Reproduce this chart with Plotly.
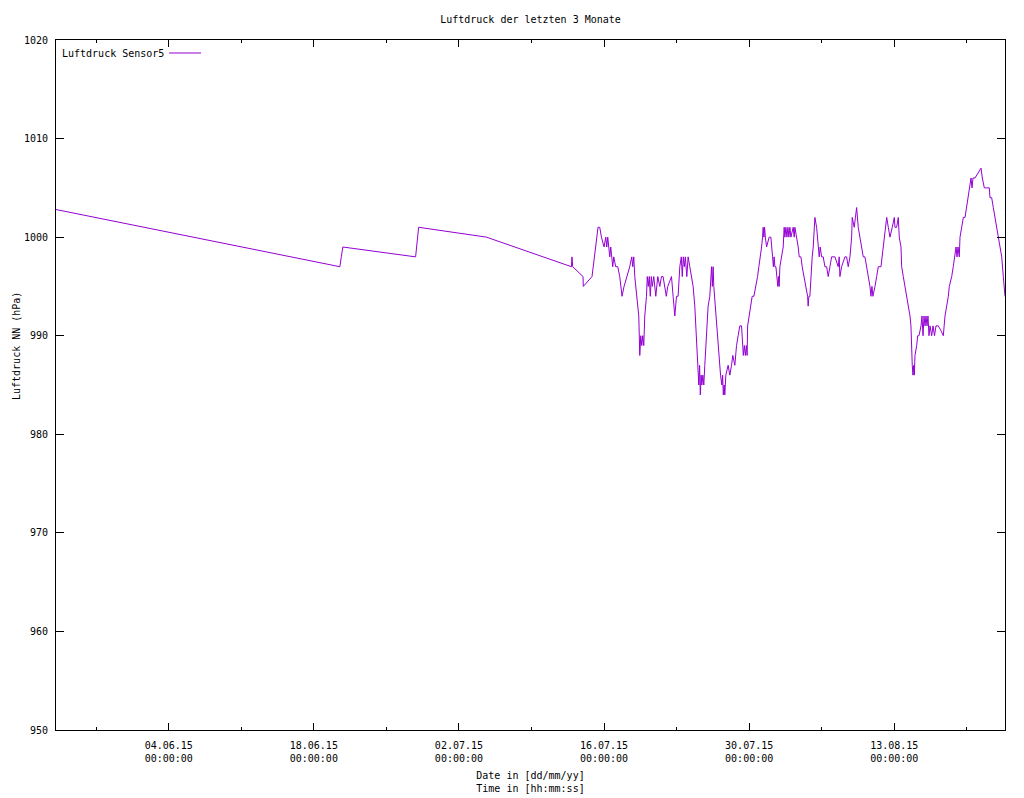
import plotly.graph_objects as go

title_text = "Luftdruck der letzten 3 Monate"
series_name = "Luftdruck Sensor5"
x_title = "Date in [dd/mm/yy]<br>Time in [hh:mm:ss]"
y_title = "Luftdruck NN (hPa)"

times = [
    "2015-05-24 03:00", "2015-06-20 12:15", "2015-06-20 15:40", "2015-06-20 19:10",
    "2015-06-27 19:40", "2015-06-28 02:40", "2015-07-04 15:35", "2015-07-12 20:30",
    "2015-07-12 21:40", "2015-07-12 23:30", "2015-07-13 23:20", "2015-07-14 00:00",
    "2015-07-14 20:10", "2015-07-15 10:05", "2015-07-15 14:00", "2015-07-15 18:00",
    "2015-07-16 00:00", "2015-07-16 04:00", "2015-07-16 06:20", "2015-07-16 08:35",
    "2015-07-16 10:55", "2015-07-16 13:15", "2015-07-16 15:30", "2015-07-16 17:50",
    "2015-07-16 20:10", "2015-07-16 22:30", "2015-07-17 03:00", "2015-07-17 07:45",
    "2015-07-17 12:20", "2015-07-17 17:40", "2015-07-17 22:20", "2015-07-18 11:30",
    "2015-07-18 16:10", "2015-07-18 18:30", "2015-07-18 20:50", "2015-07-18 23:10",
    "2015-07-19 05:25", "2015-07-19 08:25", "2015-07-19 10:45", "2015-07-19 13:00",
    "2015-07-19 15:20", "2015-07-19 17:40", "2015-07-19 20:00", "2015-07-19 22:20",
    "2015-07-20 02:15", "2015-07-20 04:05", "2015-07-20 06:25", "2015-07-20 08:45",
    "2015-07-20 11:05", "2015-07-20 13:25", "2015-07-20 15:40", "2015-07-20 19:10",
    "2015-07-20 23:50", "2015-07-21 04:25", "2015-07-21 09:05", "2015-07-21 13:00",
    "2015-07-21 16:40", "2015-07-21 20:40", "2015-07-22 00:10", "2015-07-22 03:35",
    "2015-07-22 12:10", "2015-07-22 15:55", "2015-07-22 19:50", "2015-07-22 23:45",
    "2015-07-23 03:30", "2015-07-23 07:25", "2015-07-23 10:55", "2015-07-23 13:10",
    "2015-07-23 15:30", "2015-07-23 17:50", "2015-07-23 20:10", "2015-07-23 23:40",
    "2015-07-24 02:40", "2015-07-24 06:35", "2015-07-24 10:30", "2015-07-24 14:15",
    "2015-07-24 18:10", "2015-07-24 20:30", "2015-07-24 22:05", "2015-07-25 00:25",
    "2015-07-25 01:50", "2015-07-25 03:25", "2015-07-25 05:15", "2015-07-25 06:55",
    "2015-07-25 08:45", "2015-07-25 10:25", "2015-07-25 12:45", "2015-07-25 15:00",
    "2015-07-25 17:20", "2015-07-25 19:40", "2015-07-25 21:20", "2015-07-26 01:00",
    "2015-07-26 04:55", "2015-07-26 06:35", "2015-07-26 08:55", "2015-07-26 10:45",
    "2015-07-26 12:35", "2015-07-26 14:10", "2015-07-26 18:50", "2015-07-26 22:45",
    "2015-07-27 01:05", "2015-07-27 02:30", "2015-07-27 05:45", "2015-07-27 08:45",
    "2015-07-27 10:35", "2015-07-27 12:10", "2015-07-27 14:05", "2015-07-27 15:40",
    "2015-07-27 17:20", "2015-07-27 18:00", "2015-07-27 23:20", "2015-07-28 03:15",
    "2015-07-28 07:10", "2015-07-28 10:10", "2015-07-28 14:50", "2015-07-28 18:45",
    "2015-07-28 22:30", "2015-07-29 02:25", "2015-07-29 06:25", "2015-07-29 08:40",
    "2015-07-29 10:30", "2015-07-29 12:50", "2015-07-29 15:10", "2015-07-29 17:30",
    "2015-07-29 19:20", "2015-07-29 20:30", "2015-07-30 00:00", "2015-07-30 03:15",
    "2015-07-30 07:00", "2015-07-30 10:55", "2015-07-30 15:30", "2015-07-30 19:30",
    "2015-07-30 22:30", "2015-07-31 02:25", "2015-07-31 04:45", "2015-07-31 07:05",
    "2015-07-31 08:25", "2015-07-31 10:05", "2015-07-31 11:40", "2015-07-31 13:30",
    "2015-07-31 16:20", "2015-07-31 22:20", "2015-08-01 02:15", "2015-08-01 06:15",
    "2015-08-01 08:05", "2015-08-01 09:55", "2015-08-01 11:35", "2015-08-01 13:55",
    "2015-08-01 16:55", "2015-08-01 18:30", "2015-08-01 20:05", "2015-08-01 21:30",
    "2015-08-01 23:10", "2015-08-02 03:05", "2015-08-02 06:50", "2015-08-02 09:05",
    "2015-08-02 10:45", "2015-08-02 13:05", "2015-08-02 15:25", "2015-08-02 17:45",
    "2015-08-02 20:00", "2015-08-02 22:20", "2015-08-03 00:40", "2015-08-03 06:00",
    "2015-08-03 08:20", "2015-08-03 09:55", "2015-08-03 13:50", "2015-08-03 17:35",
    "2015-08-03 19:55", "2015-08-03 23:50", "2015-08-04 02:50", "2015-08-04 07:25",
    "2015-08-04 11:25", "2015-08-04 15:20", "2015-08-04 16:40", "2015-08-04 18:20",
    "2015-08-04 20:40", "2015-08-04 23:00", "2015-08-05 02:00", "2015-08-05 04:20",
    "2015-08-05 08:15", "2015-08-05 12:10", "2015-08-05 14:30", "2015-08-05 15:55",
    "2015-08-05 18:15", "2015-08-05 20:30", "2015-08-05 23:50", "2015-08-06 03:30",
    "2015-08-06 07:25", "2015-08-06 11:25", "2015-08-06 15:05", "2015-08-06 19:00",
    "2015-08-06 23:00", "2015-08-07 06:35", "2015-08-07 14:15", "2015-08-07 16:30",
    "2015-08-07 18:10", "2015-08-07 22:05", "2015-08-08 05:45", "2015-08-08 09:40",
    "2015-08-08 13:25", "2015-08-08 17:25", "2015-08-08 21:20", "2015-08-08 22:40",
    "2015-08-09 03:20", "2015-08-09 06:05", "2015-08-09 08:55", "2015-08-09 12:35",
    "2015-08-09 16:30", "2015-08-09 20:30", "2015-08-10 00:10", "2015-08-10 04:05",
    "2015-08-10 08:05", "2015-08-10 11:50", "2015-08-10 15:45", "2015-08-10 18:00",
    "2015-08-10 20:20", "2015-08-10 22:35", "2015-08-11 01:40", "2015-08-11 03:20",
    "2015-08-11 07:15", "2015-08-11 11:00", "2015-08-11 17:15", "2015-08-11 22:35",
    "2015-08-12 02:30", "2015-08-12 06:30", "2015-08-12 10:10", "2015-08-12 14:05",
    "2015-08-12 19:25", "2015-08-13 00:05", "2015-08-13 01:40", "2015-08-13 05:35",
    "2015-08-13 09:20", "2015-08-13 11:35", "2015-08-13 15:35", "2015-08-13 17:10",
    "2015-08-13 20:55", "2015-08-14 00:50", "2015-08-14 04:45", "2015-08-14 08:25",
    "2015-08-14 12:25", "2015-08-14 14:40", "2015-08-14 16:20", "2015-08-14 17:40",
    "2015-08-14 19:20", "2015-08-14 21:00", "2015-08-14 22:25", "2015-08-15 00:00",
    "2015-08-15 03:55", "2015-08-15 06:15", "2015-08-15 09:15", "2015-08-15 13:55",
    "2015-08-15 16:15", "2015-08-15 18:35", "2015-08-15 20:55", "2015-08-15 23:10",
    "2015-08-16 01:30", "2015-08-16 03:50", "2015-08-16 06:05", "2015-08-16 08:25",
    "2015-08-16 10:45", "2015-08-16 14:40", "2015-08-16 17:40", "2015-08-16 21:10",
    "2015-08-17 00:40", "2015-08-17 06:00", "2015-08-17 12:15", "2015-08-17 17:35",
    "2015-08-17 21:30", "2015-08-18 01:30", "2015-08-18 05:10", "2015-08-18 07:30",
    "2015-08-18 13:00", "2015-08-18 16:40", "2015-08-18 20:40", "2015-08-18 23:00",
    "2015-08-19 01:20", "2015-08-19 03:35", "2015-08-19 06:35", "2015-08-19 08:15",
    "2015-08-19 12:10", "2015-08-19 15:55", "2015-08-19 19:50", "2015-08-19 23:45",
    "2015-08-20 03:30", "2015-08-20 07:25", "2015-08-20 09:45", "2015-08-20 12:00",
    "2015-08-20 14:20", "2015-08-20 19:00", "2015-08-21 02:40", "2015-08-21 08:50",
    "2015-08-21 11:55", "2015-08-21 16:30", "2015-08-21 22:05", "2015-08-22 04:05",
    "2015-08-22 05:40", "2015-08-22 09:35", "2015-08-22 13:20", "2015-08-22 17:15",
    "2015-08-22 21:10", "2015-08-23 00:55", "2015-08-23 04:50", "2015-08-23 08:50",
    "2015-08-23 12:30", "2015-08-23 16:25",
]

pressure = [
    1002.8, 997, 998, 999,
    998, 1001, 1000, 997,
    998, 997, 996, 995,
    996, 1001, 1001, 1000,
    999, 1000, 999, 1000,
    999, 998, 999, 998,
    997, 998, 997, 997,
    996, 994, 995, 997,
    998, 997, 998, 996,
    993, 992, 988, 990,
    989, 990, 989, 992,
    994, 996, 995, 996,
    994, 996, 995, 996,
    994, 996, 995, 996,
    996, 995, 994, 995,
    996, 994, 992, 994,
    994, 997, 998, 996,
    998, 997, 998, 996,
    998, 997, 996, 995,
    993, 991, 990, 987,
    986, 985, 987, 984,
    986, 985, 986, 985,
    987, 989, 991, 993,
    994, 996, 997, 995,
    997, 995, 992, 990,
    989, 988, 986, 985,
    986, 984, 985, 984,
    985, 986, 987, 986,
    987, 988, 987, 989,
    990, 991, 991, 989,
    988, 989, 988, 989,
    988, 991, 992, 993,
    994, 994, 995, 996,
    997, 998, 999, 1000,
    1001, 1000, 1001, 1000,
    999, 1000, 1000, 998,
    997, 998, 997, 997,
    996, 995, 996, 995,
    997, 998, 999, 1001,
    1000, 1001, 1000, 1001,
    1000, 1001, 1000, 1001,
    1000, 1001, 1000, 999,
    998, 998, 997, 996,
    995, 994, 993, 994,
    994, 996, 998, 999,
    1002, 1001, 1000, 999,
    998, 999, 998, 998,
    997, 997, 996, 997,
    998, 998, 997, 998,
    996, 997, 998, 998,
    997, 998, 1000, 1002,
    1001, 1002, 1003, 1001,
    1000, 999, 998, 998,
    997, 996, 995, 994,
    995, 994, 995, 995,
    996, 997, 997, 999,
    1000, 1002, 1001, 1000,
    1001, 1002, 1001, 1001,
    1002, 1000, 999, 997,
    996, 995, 994, 993,
    992, 991, 988, 987,
    986, 987, 986, 988,
    989, 990, 990, 991,
    992, 990, 992, 991,
    992, 991, 992, 990,
    991, 990, 991, 990,
    991, 991, 990.5, 990,
    992, 993, 994, 995,
    996, 997, 998, 999,
    998, 999, 998, 1000,
    1001, 1002, 1002, 1003,
    1004, 1005, 1006, 1005,
    1006, 1006, 1006.5, 1007,
    1006, 1005, 1005, 1005,
    1004, 1004, 1003, 1002,
    1001, 1000, 999, 998,
    996, 994,
]

x_tick_vals = ["2015-06-04", "2015-06-18", "2015-07-02", "2015-07-16", "2015-07-30", "2015-08-13"]
x_tick_text = ["04.06.15<br>00:00:00", "18.06.15<br>00:00:00", "02.07.15<br>00:00:00",
               "16.07.15<br>00:00:00", "30.07.15<br>00:00:00", "13.08.15<br>00:00:00"]
y_tick_vals = [950, 960, 970, 980, 990, 1000, 1010, 1020]

FONT = "DejaVu Sans Mono"
LINE_COLOR = "#9400D3"

# The HTML page adds an 8 px body margin; size the figure to fill the rest.
W, H = 1016, 790
ML, MR, MT, MB = 48, 19, 32, 68
PW, PH = W - ML - MR, H - MT - MB

fig = go.Figure()
fig.add_trace(go.Scatter(
    x=times, y=pressure, mode="lines", name=series_name,
    line=dict(color=LINE_COLOR, width=1), showlegend=False,
))

fig.update_layout(
    width=W, height=H,
    paper_bgcolor="white", plot_bgcolor="white",
    margin=dict(l=ML, r=MR, t=MT, b=MB, autoexpand=False),
    font=dict(family=FONT, size=10, color="black"),
    title=dict(text=title_text, x=0.5, xanchor="center", xref="paper",
               y=1 - 11 / H, yref="container", yanchor="middle",
               font=dict(family=FONT, size=10, color="black")),
    xaxis=dict(
        type="date", range=[times[0], times[-1]],
        tickmode="array", tickvals=x_tick_vals, ticktext=x_tick_text,
        ticks="inside", ticklen=7, tickwidth=1, tickcolor="black",
        ticklabelstandoff=6,
        minor=dict(ticks="inside", ticklen=3, tickcolor="black", tickwidth=1,
                   tickmode="linear", tick0="2015-06-04", dtick=7 * 86400000),
        showline=True, linecolor="black", linewidth=1, mirror="ticks",
        showgrid=False, zeroline=False,
        title=dict(text=x_title, standoff=8, font=dict(family=FONT, size=10)),
    ),
    yaxis=dict(
        range=[950, 1020], tickmode="array", tickvals=y_tick_vals,
        ticks="inside", ticklen=8, tickwidth=1, tickcolor="black",
        ticklabelstandoff=5,
        showline=True, linecolor="black", linewidth=1, mirror="ticks",
        showgrid=False, zeroline=False,
    ),
    annotations=[
        dict(text=y_title, xref="paper", yref="paper", x=-40 / PW, y=(730 - 346) / PH,
             textangle=-90, showarrow=False, xanchor="center", yanchor="middle",
             font=dict(family=FONT, size=10, color="black")),
        dict(text=series_name, xref="paper", yref="paper", x=4 / PW, y=1 - 13 / PH,
             showarrow=False, xanchor="left", yanchor="middle",
             font=dict(family=FONT, size=10, color="black")),
    ],
    shapes=[
        dict(type="line", xref="paper", yref="paper", x0=113 / PW, x1=145 / PW,
             y0=1 - 13 / PH, y1=1 - 13 / PH, line=dict(color=LINE_COLOR, width=1)),
    ],
)

fig.write_html("out.html")
